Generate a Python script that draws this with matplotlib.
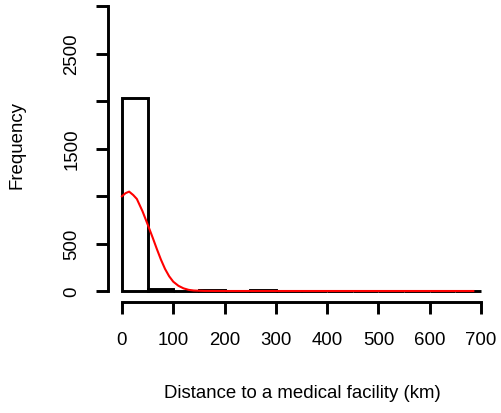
import matplotlib
matplotlib.use("Agg")
import matplotlib.pyplot as plt
import numpy as np

# Histogram data (bins of 50 km)
bin_edges = [0, 50, 100, 150, 200, 250, 300, 350, 400, 450, 500, 550, 600, 650, 700]
counts = [2030, 25, 2, 9, 1, 6, 1, 5, 5, 0, 0, 0, 0, 1]

# Scaled density curve (red)
dens_x = [0, 7, 14, 22, 29, 40, 51, 60, 68, 76, 84, 92, 100, 110, 120, 130, 140, 160, 200, 300, 400, 500, 600, 685]
dens_y = [997, 1030, 1046, 1010, 969, 840, 688, 560, 442, 330, 232, 155, 98, 55, 28, 12, 5, 1, 0, 0, 0, 0, 0, 0]

xticks = [0, 100, 200, 300, 400, 500, 600, 700]
yticks = [0, 500, 1000, 1500, 2000, 2500, 3000]
ytick_labels = ["0", "500", "", "1500", "", "2500", ""]

plt.rcParams['font.family'] = ['Liberation Sans', 'DejaVu Sans']

W, H = 501, 414
fig = plt.figure(figsize=(W / 100, H / 100), dpi=100)
left_px, right_px = 107.6, 495.4
top_px, bot_px = -4.4, 303.4
ax = fig.add_axes([left_px / W, (H - bot_px) / H, (right_px - left_px) / W, (bot_px - top_px) / H])
ax.patch.set_alpha(0)

LW = 2.1
widths = np.diff(bin_edges)
ax.bar(bin_edges[:-1], counts, width=widths, align='edge', facecolor='white',
       edgecolor='black', linewidth=LW, zorder=2)
ax.plot(dens_x, dens_y, color='#ff0000', linewidth=1.5, zorder=3)

ax.set_xlim(-28, 728)
ax.set_ylim(-120, 3120)

for s in ['top', 'right']:
    ax.spines[s].set_visible(False)
ax.spines['left'].set_bounds(0, 3000)
ax.spines['bottom'].set_bounds(0, 700)
ax.spines['left'].set_linewidth(LW)
ax.spines['bottom'].set_linewidth(LW)
ax.spines['left'].set_capstyle('projecting')
ax.spines['bottom'].set_capstyle('projecting')

ax.set_xticks(xticks)
ax.set_xticklabels([str(t) for t in xticks])
ax.set_yticks(yticks)
ax.set_yticklabels(ytick_labels, rotation=90, va='center')
ax.tick_params(axis='both', direction='out', length=8.6, width=LW, labelsize=13.4, colors='black')
ax.tick_params(axis='x', pad=12)
ax.tick_params(axis='y', pad=11)

fig.text(302 / W, 1 - 394 / H, "Distance to a medical facility (km)", ha='center', va='center', fontsize=13.4)
fig.text(17 / W, 1 - 145 / H, "Frequency", ha='center', va='center', rotation=90, fontsize=13.4)

fig.savefig("out.png", dpi=100)
